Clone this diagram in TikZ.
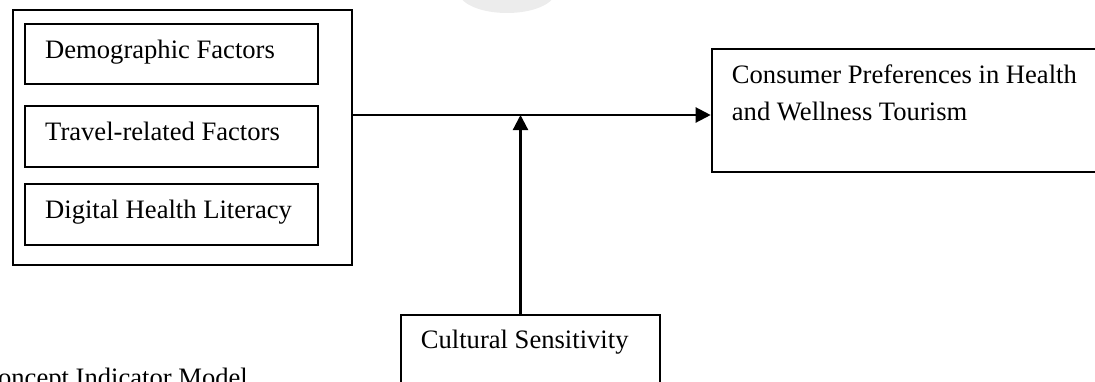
\documentclass[tikz,border=0pt]{standalone}
\usepackage{fontspec}
\setmainfont{Liberation Serif}
\usetikzlibrary{arrows.meta}
\begin{document}
\begin{tikzpicture}[x=1pt,y=-1pt,
  box/.style={draw, line width=1.8pt, rectangle, inner sep=0pt, anchor=north west},
  lbl/.style={anchor=base west, inner sep=0pt, align=left, font=\fontsize{26.6}{36.7}\selectfont},
  conn/.style={line width=2.2pt, -{Triangle[length=15pt,width=15pt]}},
]
\useasboundingbox (0,0) rectangle (1095,381);
\clip (0,0) rectangle (1095,381);
% faint watermark at the top
\fill[gray!15] (507,-8) ellipse [x radius=48, y radius=21];
% outer group box and its three factors
\node[box, minimum width=339pt, minimum height=254.7pt] (outer) at (11.7,9.3) {};
\node[box, minimum width=293pt, minimum height=60.6pt] (d1) at (24.3,22.7) {};
\node[box, minimum width=293pt, minimum height=60.4pt] (d2) at (24.3,105.3) {};
\node[box, minimum width=293pt, minimum height=61pt] (d3) at (24.3,183.3) {};
\node[lbl] (t1) at (45,58.3) {Demographic Factors};
\node[lbl] (t2) at (45,140) {Travel-related Factors};
\node[lbl] (t3) at (45,218.3) {Digital Health Literacy};
% outcome box
\node[box, minimum width=394.3pt, minimum height=122.4pt] (cons) at (710.7,48.3) {};
\node[lbl] (tc) at (731.7,120) {Consumer Preferences in Health\\and Wellness Tourism};
% moderator box
\node[box, minimum width=259pt, minimum height=86pt] (cult) at (400,314.3) {};
\node[lbl] (tm) at (420.7,348.3) {Cultural Sensitivity};
% caption
\node[anchor=base east, inner sep=0pt, font=\fontsize{26.6}{36.7}\selectfont] (cap) at (248,386.5) {Concept Indicator Model};
% connectors
\coordinate (j) at (520.5,115);
\draw[conn] (j -| outer.east) -- (j -| cons.west);
\draw[conn] (cult.north -| j) -- (j);
\end{tikzpicture}
\end{document}
